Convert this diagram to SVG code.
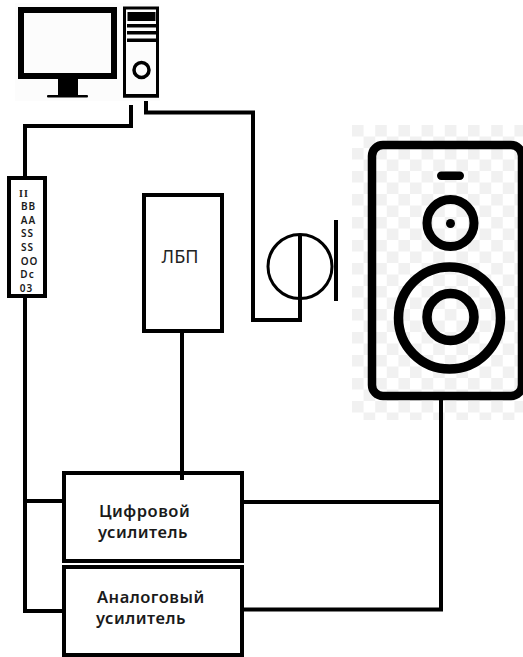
<svg xmlns="http://www.w3.org/2000/svg" width="523" height="657" viewBox="0 0 523 657">
<defs>
<pattern id="chk" x="352" y="125" width="23.2" height="23" patternUnits="userSpaceOnUse">
<rect width="11.6" height="11.5" fill="#f1f1f1"/><rect x="11.6" y="11.5" width="11.6" height="11.5" fill="#f1f1f1"/>
</pattern>
</defs>
<style>
.w{fill:none;stroke:#000;stroke-width:4;stroke-linejoin:miter}
.b{fill:#fff;stroke:#000;stroke-width:4}
.k{fill:none;stroke:#000}
.t{font-family:"Noto Sans","DejaVu Sans",sans-serif;font-weight:600;fill:#1a1a1a}
.a{font-size:16.500px;letter-spacing:.5px}
text{font-family:"Noto Sans","DejaVu Sans",sans-serif}
</style>
<rect width="523" height="657" fill="#fff"/>
<g id="speaker">
<rect x="352" y="125" width="171" height="295" fill="url(#chk)"/>
<rect class="k" x="372" y="145" width="150" height="251" rx="11" stroke-width="8.500"/>
<rect x="437" y="171.500" width="27" height="8.500" rx="4.200"/>
<circle class="k" cx="450.500" cy="223" r="23.500" stroke-width="9"/>
<circle cx="450.500" cy="223.500" r="4.500"/>
<circle class="k" cx="449.500" cy="318" r="51" stroke-width="9.500"/>
<circle class="k" cx="450.500" cy="317" r="23.500" stroke-width="9.500"/>
</g>
<g id="connectors">
<path class="w" d="M131 105V126H25V178"/>
<path class="w" d="M146 101V112.500H253V320H302"/>
<path class="w" d="M25 296V611H65"/>
<path class="w" d="M25 501H65"/>
<path class="w" d="M182 333V480"/>
<path class="w" d="M243 502H441V398"/>
<path class="w" d="M243 609.500H441V500"/>
</g>
<g id="computer">
<rect x="15" y="3" width="145" height="98" fill="#fcfcfc"/>
<rect class="k" x="21" y="10" width="93" height="66" fill="#fff" stroke-width="6"/>
<rect x="58" y="79" width="20" height="16"/>
<rect x="47" y="95" width="41" height="2.500" rx="1"/>
<rect class="k" x="124.500" y="8" width="33" height="88" stroke-width="3"/>
<rect x="123" y="94" width="36" height="3.500"/>
<rect x="127.500" y="12" width="28" height="9"/>
<rect x="127" y="24" width="29" height="3.500"/>
<rect x="127" y="31" width="29" height="3.500"/>
<rect x="127" y="38.500" width="29" height="3.500"/>
<circle class="k" cx="141.500" cy="70" r="7.500" stroke-width="3.500"/>
</g>
<g id="ibasso">
<rect class="b" x="9" y="178" width="36" height="118"/>
<g class="t" text-anchor="middle" style="font-size:10px;letter-spacing:1px">
<text x="24" y="197" style="font-family:'Liberation Serif',serif;font-weight:700">II</text>
<text x="28.500" y="210">BB</text>
<text x="28.500" y="224">AA</text>
<text x="27.500" y="237">SS</text>
<text x="27.500" y="251">SS</text>
<text x="29.500" y="265">OO</text>
<text x="27.500" y="278">Dc</text>
<text x="26.500" y="292">03</text>
</g>
</g>
<g id="lbp">
<rect class="b" x="144" y="195" width="78" height="136"/>
<text x="180" y="263" text-anchor="middle" font-size="18" fill="#222">ЛБП</text>
</g>
<g id="microphone">
<circle class="k" cx="300" cy="266.500" r="32" stroke-width="3" fill="none"/>
<path class="k" d="M300 235V322" stroke-width="4"/>
<path class="k" d="M336 220V301" stroke-width="4"/>
</g>
<g id="digital-amp">
<rect class="b" x="64" y="473" width="178" height="88"/>
<text class="t a" x="99" y="517">Цифровой</text>
<text class="t a" x="98" y="538">усилитель</text>
</g>
<path class="w" d="M182 470V480"/>
<g id="analog-amp">
<rect class="b" x="64" y="567" width="178" height="88"/>
<text class="t a" x="97" y="603">Аналоговый</text>
<text class="t a" x="96" y="624">усилитель</text>
</g>
</svg>
